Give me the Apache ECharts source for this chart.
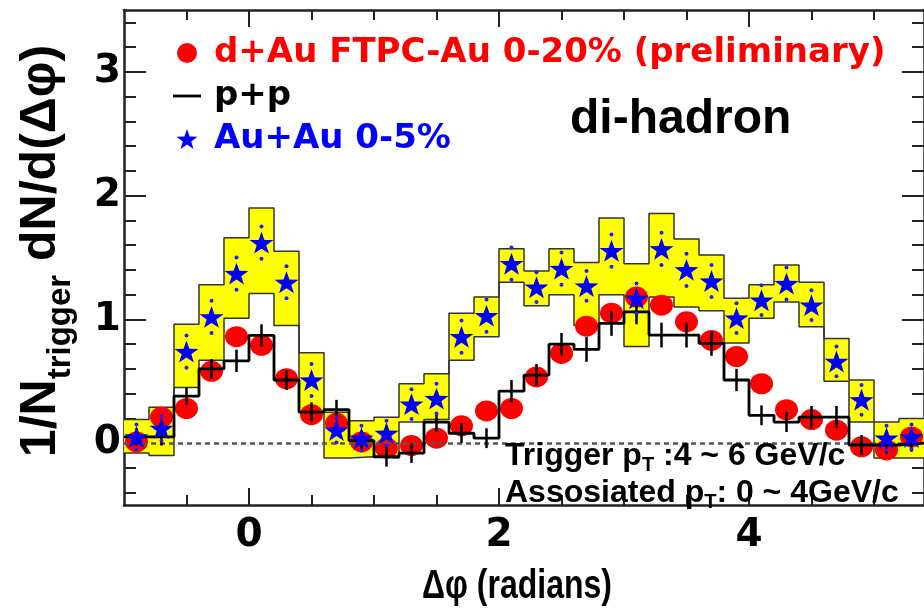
<!DOCTYPE html>
<html><head><meta charset="utf-8">
<script src="https://cdn.jsdelivr.net/npm/echarts@6/dist/echarts.min.js"></script>
<style>html,body{margin:0;padding:0;background:#fff}#c{width:924px;height:612px}</style>
</head><body><div id="c"></div>
<script>
// ---- data ----
const binCenters = [-0.9,-0.7,-0.5,-0.3,-0.1,0.1,0.3,0.5,0.7,0.9,1.1,1.3,1.5,1.7,1.9,2.1,2.3,2.5,2.7,2.9,3.1,3.3,3.5,3.7,3.9,4.1,4.3,4.5,4.7,4.9,5.1,5.3];
const binWidth = 0.2;
const dAu = [0.01,0.21,0.28,0.58,0.86,0.79,0.52,0.23,0.16,0.01,-0.04,-0.02,0.04,0.14,0.26,0.28,0.535,0.725,0.945,1.05,1.18,1.115,0.98,0.83,0.70,0.48,0.27,0.19,0.105,-0.03,-0.055,0.05];
const pp = [0.05,0.05,0.38,0.60,0.665,0.87,0.51,0.25,0.27,0.02,-0.11,-0.08,0.17,0.08,0.04,0.42,0.55,0.80,0.757,0.967,1.06,0.873,0.873,0.806,0.51,0.225,0.17,0.21,0.21,-0.015,-0.015,0.0];
const ppErr = [0.07,0.07,0.07,0.08,0.09,0.09,0.08,0.08,0.08,0.07,0.08,0.08,0.08,0.08,0.08,0.09,0.09,0.09,0.1,0.1,0.1,0.1,0.1,0.1,0.09,0.08,0.08,0.09,0.09,0.08,0.07,0.07];
const auau = [0.05,0.12,0.74,1.02,1.37,1.62,1.30,0.51,0.105,0.04,0.08,0.315,0.36,0.86,1.03,1.45,1.26,1.41,1.27,1.555,1.17,1.57,1.40,1.31,1.01,1.155,1.29,1.115,0.66,0.35,0.04,0.05];
const auauStat = [0.1,0.1,0.13,0.13,0.13,0.13,0.13,0.13,0.1,0.1,0.1,0.12,0.12,0.13,0.13,0.13,0.12,0.13,0.12,0.13,0.12,0.13,0.13,0.13,0.12,0.12,0.13,0.12,0.12,0.12,0.1,0.1];
const auauSysHi = [0.19,0.29,0.96,1.28,1.66,1.90,1.55,0.73,0.25,0.18,0.21,0.48,0.56,1.05,1.18,1.57,1.39,1.57,1.46,1.82,1.45,1.855,1.65,1.52,1.17,1.28,1.44,1.30,0.845,0.51,0.17,0.20];
const auauSysLo = [-0.08,-0.10,0.45,0.67,1.01,1.21,0.95,0.25,-0.12,-0.11,-0.12,0.17,0.19,0.67,0.86,1.30,1.11,1.20,0.95,1.20,0.78,1.18,1.10,1.07,0.81,1.01,1.14,0.94,0.50,0.17,-0.12,-0.12];
const xMajorTicks = [0, 2, 4];
const xMinorTicks = [-0.5, 0.5, 1, 1.5, 2.5, 3, 3.5, 4.5, 5];
const yMajorTicks = [0, 1, 2, 3];
const yMinorTicks = [-0.4,-0.2,0.2,0.4,0.6,0.8,1.2,1.4,1.6,1.8,2.2,2.4,2.6,2.8,3.2,3.4];
const seriesNames = ['d+Au FTPC-Au 0-20% (preliminary)', 'p+p', 'Au+Au 0-5%'];

// ---- helpers building library inputs from the arrays ----
function histPoints(vals) {
  const out = [];
  binCenters.forEach((c, i) => { out.push([c - binWidth / 2, vals[i]]); out.push([c + binWidth / 2, vals[i]]); });
  return out;
}
const X_MIN = -1, X_MAX = 5.4, Y_MIN = -0.5, Y_MAX = 3.5;
const AX = '#222';
function xAx(pos, vals, len, line, labels) {
  return {
    type: 'value', position: pos, min: X_MIN, max: X_MAX,
    axisLine: { show: line, onZero: false, lineStyle: { color: AX, width: 2.5 } },
    axisTick: { show: true, inside: true, length: len, customValues: vals, lineStyle: { color: AX, width: 2 } },
    axisLabel: labels ? { show: true, customValues: vals, margin: 11, color: '#000',
      fontFamily: 'DejaVu Sans', fontWeight: 'bold', fontSize: 39 } : { show: false },
    splitLine: { show: false }
  };
}
function yAx(pos, vals, len, line, labels) {
  return {
    type: 'value', position: pos, min: Y_MIN, max: Y_MAX,
    axisLine: { show: line, onZero: false, lineStyle: { color: AX, width: 2.5 } },
    axisTick: { show: true, inside: true, length: len, customValues: vals, lineStyle: { color: AX, width: 2 } },
    axisLabel: labels ? { show: true, customValues: vals, margin: 3, color: '#000',
      fontFamily: 'DejaVu Sans', fontWeight: 'bold', fontSize: 39 } : { show: false },
    splitLine: { show: false }
  };
}
const starPath = 'path://M0,-10 L2.35,-3.24 L9.51,-3.09 L3.8,1.24 L5.88,8.09 L0,4 L-5.88,8.09 L-3.8,1.24 L-9.51,-3.09 L-2.35,-3.24 Z';
const dashIcon = 'path://M0,0 L30,0 L30,3 L0,3 Z';

const option = {
  animation: false,
  backgroundColor: '#ffffff',
  grid: { left: 124, top: 10, width: 806, height: 495, containLabel: false },
  xAxis: [
    xAx('bottom', xMajorTicks, 17, true, true),
    xAx('bottom', xMinorTicks, 10, false, false),
    xAx('top', xMajorTicks, 17, true, false),
    xAx('top', xMinorTicks, 10, false, false)
  ],
  yAxis: [
    yAx('left', yMajorTicks, 22, true, true),
    yAx('left', yMinorTicks, 12, false, false),
    yAx('right', yMajorTicks, 22, true, false),
    yAx('right', yMinorTicks, 12, false, false)
  ],
  legend: {
    orient: 'vertical', left: 168, top: 31, itemWidth: 28, itemHeight: 20, itemGap: 9,
    selectedMode: false, symbolKeepAspect: true,
    textStyle: { fontFamily: 'DejaVu Sans', fontWeight: 'bold', fontSize: 34, lineHeight: 34, padding: [0, 0, 0, 8] },
    data: [
      { name: seriesNames[0], icon: 'circle', itemStyle: { color: '#ff0000', opacity: 1 }, textStyle: { color: '#ff0000' } },
      { name: seriesNames[1], icon: dashIcon, itemStyle: { color: '#000000', opacity: 1 }, lineStyle: { width: 0, opacity: 0 }, textStyle: { color: '#000000' } },
      { name: seriesNames[2], icon: starPath, itemStyle: { color: '#0000ff', opacity: 1 }, textStyle: { color: '#0000ff' } }
    ]
  },
  series: [
    { // zero reference line
      type: 'line', name: 'zero', data: [], z: 1, silent: true,
      markLine: { silent: true, symbol: 'none', label: { show: false },
        lineStyle: { color: '#555', width: 2.5, type: [5, 4] }, data: [{ yAxis: 0 }] }
    },
    { // Au+Au systematic boxes
      type: 'custom', name: 'AuAu sys', z: 2, silent: true, clip: true,
      data: binCenters.map((c, i) => [c, auauSysLo[i], auauSysHi[i]]),
      encode: { x: 0, y: [1, 2] },
      renderItem: function (params, api) {
        const p0 = api.coord([api.value(0) - binWidth / 2, api.value(2)]);
        const p1 = api.coord([api.value(0) + binWidth / 2, api.value(1)]);
        return { type: 'rect', shape: { x: p0[0] - 0.3, y: p0[1], width: p1[0] - p0[0] + 0.6, height: p1[1] - p0[1] },
          style: { fill: '#ffff00' } };
      }
    },
    { type: 'line', name: 'sysHiEdge', data: histPoints(auauSysHi), z: 3, silent: true, symbol: 'none',
      lineStyle: { color: '#333', width: 1.5 } },
    { type: 'line', name: 'sysLoEdge', data: histPoints(auauSysLo), z: 3, silent: true, symbol: 'none',
      lineStyle: { color: '#333', width: 1.5 } },
    { type: 'scatter', name: seriesNames[0], z: 4, symbol: 'circle', symbolSize: [23, 21],
      itemStyle: { color: '#ff0000', opacity: 1 },
      data: binCenters.map((c, i) => [c, dAu[i]]) },
    { type: 'line', name: seriesNames[1], z: 5, symbol: 'none', showSymbol: false, data: histPoints(pp),
      lineStyle: { color: '#000', width: 2.8 }, itemStyle: { color: '#000' } },
    { type: 'custom', name: 'pp err', z: 5, silent: true,
      data: binCenters.map((c, i) => [c, pp[i] - ppErr[i], pp[i] + ppErr[i]]),
      encode: { x: 0, y: [1, 2] },
      renderItem: function (params, api) {
        const a = api.coord([api.value(0), api.value(1)]);
        const b = api.coord([api.value(0), api.value(2)]);
        return { type: 'line', shape: { x1: a[0], y1: a[1], x2: b[0], y2: b[1] },
          style: { stroke: '#000', lineWidth: 2.5 } };
      }
    },
    { type: 'scatter', name: 'AuAu stat', z: 6, silent: true, symbol: 'circle', symbolSize: 4,
      itemStyle: { color: '#2020ff', opacity: 1 },
      data: binCenters.map((c, i) => [c, auau[i] + auauStat[i]]).concat(binCenters.map((c, i) => [c, auau[i] - auauStat[i]])) },
    { type: 'scatter', name: seriesNames[2], z: 7, symbol: starPath, symbolSize: [24, 23], symbolKeepAspect: true,
      itemStyle: { color: '#0000ff', opacity: 1 },
      data: binCenters.map((c, i) => [c, auau[i]]) }
  ],
  graphic: [
    { type: 'text', x: 570, y: 120, z: 100,
      style: { text: 'di-hadron', fill: '#000', font: 'bold 48px "Liberation Sans", Arial, sans-serif', verticalAlign: 'middle' } },
    { type: 'text', x: 505, y: 465, z: 100,
      style: { text: '{m|Trigger p}{s|T}{m| :4 ~ 6 GeV/c}', verticalAlign: 'middle',
        rich: { m: { fontFamily: 'Liberation Sans', fontWeight: 'bold', fontSize: 32, lineHeight: 32, fill: '#000', verticalAlign: 'top' },
                s: { fontFamily: 'Liberation Sans', fontWeight: 'bold', fontSize: 20, lineHeight: 50, fill: '#000', verticalAlign: 'middle' } } } },
    { type: 'text', x: 505, y: 502, z: 100,
      style: { text: '{m|Assosiated p}{s|T}{m|: 0 ~ 4GeV/c}', verticalAlign: 'middle',
        rich: { m: { fontFamily: 'Liberation Sans', fontWeight: 'bold', fontSize: 32, lineHeight: 32, fill: '#000', verticalAlign: 'top' },
                s: { fontFamily: 'Liberation Sans', fontWeight: 'bold', fontSize: 20, lineHeight: 50, fill: '#000', verticalAlign: 'middle' } } } },
    // x-axis title
    { type: 'text', x: 517, y: 587, z: 100, scaleX: 0.8,
      style: { text: 'Δφ (radians)', fill: '#000', font: 'bold 40px "Liberation Sans", Arial, sans-serif',
        align: 'center', verticalAlign: 'middle' } },
    // y-axis title
    { type: 'text', x: 61, y: 251, rotation: Math.PI / 2, z: 100,
      style: { text: '{m|1/N}{s|trigger}{m| dN/d(Δφ)}', align: 'center', verticalAlign: 'middle',
        rich: { m: { fontFamily: 'Liberation Sans', fontWeight: 'bold', fontSize: 50, lineHeight: 50, fill: '#000', verticalAlign: 'top' },
                s: { fontFamily: 'Liberation Sans', fontWeight: 'bold', fontSize: 33, lineHeight: 90, fill: '#000', verticalAlign: 'middle' } } } }
  ]
};
const chart = echarts.init(document.getElementById('c'), null, { renderer: 'canvas' });
chart.setOption(option);
</script>
</body></html>
